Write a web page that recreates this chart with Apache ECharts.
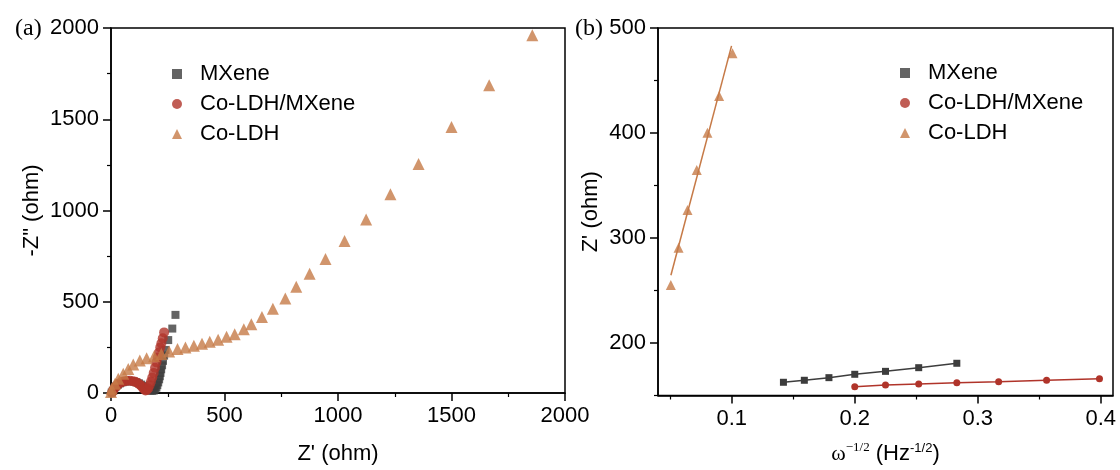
<!DOCTYPE html>
<html>
<head>
<meta charset="utf-8">
<script src="https://cdn.jsdelivr.net/npm/echarts@6/dist/echarts.min.js"></script>
<style>
html,body{margin:0;padding:0;background:#fff;}
#chart{width:1120px;height:470px;}
</style>
</head>
<body>
<div id="chart"></div>
<script>
// ---------- Panel (a): Nyquist plot, [Z', -Z''] in ohm ----------
var mxeneNyquist = [[3,2],[8,12],[14,24],[21,35],[30,45],[40,53],[51,59],[63,63],[75,65],[88,65],[100,63],[112,59],[123,53],[133,46],[142,38],[150,30],[158,23],[166,17],[174,13],[182,12],[189,14],[195,20],[200,30],[204,43],[208,58],[212,75],[215,92],[218,110],[221,130],[225,152],[229,176],[234,205],[240,236],[252,290],[270,353],[284,428]];
var ldhMxeneNyquist = [[5,3],[10,15],[16,27],[23,38],[31,47],[40,55],[50,61],[61,65],[72,67],[84,67],[96,65],[107,61],[117,55],[126,47],[134,38],[141,28],[147,19],[152,14],[158,16],[164,25],[170,42],[176,62],[182,85],[188,110],[194,138],[200,168],[206,195],[211,222],[217,250],[222,272],[228,300],[234,332]];
var ldhNyquist = [[0,5],[3,23],[18,51],[32,78],[54,105],[76,132],[98,156],[127,178],[157,190],[190,201],[222,214],[256,228],[293,241],[328,250],[365,259],[401,270],[435,281],[472,292],[509,308],[545,322],[585,349],[618,377],[665,417],[713,462],[768,518],[816,582],[875,654],[945,734],[1029,833],[1124,951],[1231,1089],[1355,1255],[1500,1458],[1666,1686],[1856,1960]];

// ---------- Panel (b): Z' vs omega^-1/2 ----------
var mxeneW = [0.142,0.159,0.179,0.200,0.225,0.252,0.283];
var mxeneZ = [162.6,164.5,167.0,170.2,173.0,176.5,180.7];
var ldhMxW = [0.200,0.225,0.252,0.283,0.317,0.356,0.399];
var ldhMxZ = [158.4,160.0,161.0,162.2,163.1,164.5,166.0];
var ldhW = [0.0504,0.0567,0.0640,0.0715,0.0802,0.0897,0.1006];
var ldhZ = [255.2,290.8,326.7,364.8,400.3,435.2,475.9];
var ldhFitW = [0.0505,0.0998];
var ldhFitZ = [264.5,483.0];

var bXMajor = [0.1,0.2,0.3,0.4];
var bXMinor = [0.05,0.15,0.25,0.35];
var bYMajor = [200,300,400,500];
var bYMinor = [150,250,350,450];

var names = ['MXene','Co-LDH/MXene','Co-LDH'];
var colors = ['#3d3d3d','#b0342a','#c67a47'];

function zip(a,b){return a.map(function(v,i){return [v,b[i]];});}

var SANS = 'Liberation Sans, Arial, sans-serif';
var SERIF = 'Liberation Serif, Times New Roman, serif';
var FS = 22;
function plain(v){return String(v);}

function axisCommon(){
  return {
    axisLine:{show:true,onZero:false,lineStyle:{color:'#000',width:1.5}},
    axisTick:{show:true,inside:false,length:8,lineStyle:{color:'#000',width:1.5}},
    minorTick:{show:true,splitNumber:2,length:4,lineStyle:{color:'#000',width:1.2}},
    splitLine:{show:false},
    axisLabel:{color:'#000',fontSize:FS,fontFamily:SANS,margin:12,formatter:plain},
    nameTextStyle:{color:'#000',fontSize:FS,fontFamily:SANS}
  };
}
function merge(a,b){for(var k in b){a[k]=b[k];}return a;}

function legendAt(left,top){
  return {orient:'vertical',left:left,top:top,itemWidth:10,itemHeight:10,itemGap:8,
    textStyle:{fontSize:FS,fontFamily:SANS,color:'#000',lineHeight:22,padding:[0,0,0,13]},
    data:[{name:names[0],icon:'path://M0,0h10v10h-10z',itemStyle:{color:colors[0]}},
          {name:names[1],icon:'circle'},
          {name:names[2],icon:'triangle'}]};
}

var option = {
  backgroundColor:'#fff',
  animation:false,
  title:[
    {text:'(a)',left:10,top:12,textStyle:{fontFamily:SERIF,fontSize:24,fontWeight:'normal',color:'#000'}},
    {text:'(b)',left:570,top:12,textStyle:{fontFamily:SERIF,fontSize:24,fontWeight:'normal',color:'#000'}}
  ],
  grid:[
    {left:111,top:28,width:454,height:368,show:true,borderColor:'#000',borderWidth:1.5,backgroundColor:'transparent'},
    {left:658,top:28,width:455,height:368,show:true,borderColor:'#000',borderWidth:1.5,backgroundColor:'transparent'}
  ],
  legend:[legendAt(167,58),legendAt(895,57)],
  xAxis:[
    merge(axisCommon(),{type:'value',gridIndex:0,position:'bottom',min:0,max:2000,interval:500,
      name:"Z' (ohm)",nameLocation:'middle',nameGap:50}),
    merge(axisCommon(),{type:'value',gridIndex:1,position:'bottom',min:0.04,max:0.41,
      minorTick:{show:false},
      axisTick:{show:true,inside:false,length:8,customValues:bXMajor,lineStyle:{color:'#000',width:1.5}},
      axisLabel:{color:'#000',fontSize:FS,fontFamily:SANS,margin:12,customValues:bXMajor,formatter:plain},
      name:'{w|ω}{s|−1/2} (Hz{t|-1/2})',nameLocation:'middle',nameGap:46,
      nameTextStyle:{color:'#000',fontSize:FS,fontFamily:SANS,
        rich:{w:{fontFamily:SERIF,fontSize:FS,color:'#000'},
              s:{fontFamily:SERIF,fontSize:13,color:'#000',padding:[0,0,12,0]},
              t:{fontFamily:SANS,fontSize:13,color:'#000',padding:[0,0,12,0]}}}}),
    {type:'value',gridIndex:1,position:'bottom',offset:0,min:0.04,max:0.41,axisLine:{show:false},axisLabel:{show:false},splitLine:{show:false},
      axisTick:{show:true,inside:false,length:4,customValues:bXMinor,lineStyle:{color:'#000',width:1.2}}}
  ],
  yAxis:[
    merge(axisCommon(),{type:'value',gridIndex:0,position:'left',min:0,max:2000,interval:500,
      name:'-Z" (ohm)',nameLocation:'middle',nameGap:68,nameRotate:90}),
    merge(axisCommon(),{type:'value',gridIndex:1,position:'left',min:150,max:500,
      minorTick:{show:false},
      axisTick:{show:true,inside:false,length:8,customValues:bYMajor,lineStyle:{color:'#000',width:1.5}},
      axisLabel:{color:'#000',fontSize:FS,fontFamily:SANS,margin:12,customValues:bYMajor,formatter:plain},
      name:"Z' (ohm)",nameLocation:'middle',nameGap:56,nameRotate:90}),
    {type:'value',gridIndex:1,position:'left',offset:0,min:150,max:500,axisLine:{show:false},axisLabel:{show:false},splitLine:{show:false},
      axisTick:{show:true,inside:false,length:4,customValues:bYMinor,lineStyle:{color:'#000',width:1.2}}}
  ],
  series:[
    {name:names[0],type:'scatter',xAxisIndex:0,yAxisIndex:0,symbol:'rect',symbolSize:8,
      itemStyle:{color:colors[0]},data:mxeneNyquist},
    {name:names[1],type:'scatter',xAxisIndex:0,yAxisIndex:0,symbol:'circle',symbolSize:10,
      itemStyle:{color:colors[1]},data:ldhMxeneNyquist},
    {name:names[2],type:'scatter',xAxisIndex:0,yAxisIndex:0,symbol:'triangle',symbolSize:12,
      itemStyle:{color:colors[2]},data:ldhNyquist},

    {name:names[0],type:'line',xAxisIndex:1,yAxisIndex:1,symbol:'rect',symbolSize:7,
      lineStyle:{color:colors[0],width:1.5},itemStyle:{color:colors[0]},data:zip(mxeneW,mxeneZ)},
    {name:names[1],type:'line',xAxisIndex:1,yAxisIndex:1,symbol:'circle',symbolSize:7,
      lineStyle:{color:colors[1],width:1.5},itemStyle:{color:colors[1]},data:zip(ldhMxW,ldhMxZ)},
    {name:'Co-LDH fit',type:'line',xAxisIndex:1,yAxisIndex:1,showSymbol:false,symbol:'none',
      lineStyle:{color:colors[2],width:1.5},itemStyle:{color:colors[2]},data:zip(ldhFitW,ldhFitZ)},
    {name:names[2],type:'scatter',xAxisIndex:1,yAxisIndex:1,symbol:'triangle',symbolSize:10,
      itemStyle:{color:colors[2]},data:zip(ldhW,ldhZ)}
  ]
};

var chart = echarts.init(document.getElementById('chart'),null,{renderer:'canvas'});
chart.setOption(option);
</script>
</body>
</html>
